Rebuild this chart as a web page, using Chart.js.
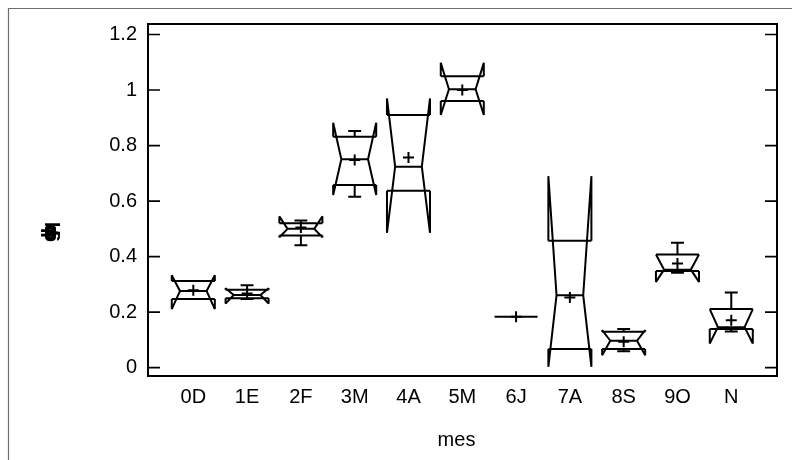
<!DOCTYPE html>
<html>
<head>
<meta charset="utf-8">
<script src="https://cdn.jsdelivr.net/npm/chart.js@4"></script>
<style>
  html,body{margin:0;padding:0;background:#fff;}
  #wrap{width:792px;height:460px;}
</style>
</head>
<body>
<div id="wrap"><canvas id="c" width="792" height="460"></canvas></div>
<script>
const categories = ['0D','1E','2F','3M','4A','5M','6J','7A','8S','9O','N'];
const whiskerHigh = [0.312,0.297,0.530,0.853,0.910,1.050,0.183,0.457,0.139,0.450,0.271];
const notchHigh   = [0.333,0.286,0.545,0.882,0.970,1.098,0.183,0.690,0.135,0.408,0.211];
const q3          = [0.312,0.281,0.520,0.832,0.910,1.050,0.183,0.457,0.129,0.408,0.211];
const median      = [0.276,0.262,0.500,0.751,0.724,1.003,0.183,0.261,0.097,0.353,0.146];
const q1          = [0.247,0.250,0.476,0.658,0.637,0.961,0.183,0.067,0.067,0.348,0.139];
const notchLow    = [0.211,0.231,0.470,0.622,0.486,0.910,0.183,0.003,0.045,0.309,0.087];
const whiskerLow  = [0.247,0.247,0.441,0.616,0.637,0.961,0.183,0.067,0.059,0.342,0.130];
const means       = [0.279,0.267,0.505,0.748,0.757,1.000,0.183,0.253,0.093,0.375,0.171];
const yTickValues = [0,0.2,0.4,0.6,0.8,1,1.2];
const yTickLabels = ['0','0.2','0.4','0.6','0.8','1','1.2'];
const xTitle = 'mes';

const FONT = 'Liberation Sans, Arial, sans-serif';
const BOX_HALF = 0.4, NOTCH_FRAC = 0.62, CAP_HALF = 0.12;

const boxPlugin = {
  id:'boxes',
  beforeDatasetsDraw(chart){
    const {ctx, scales:{x,y}} = chart;
    ctx.save();
    ctx.strokeStyle = '#000';
    ctx.lineWidth = 2;
    ctx.lineJoin = 'bevel';
    ctx.lineCap = 'butt';
    for(let i=0;i<categories.length;i++){
      const xl = x.getPixelForValue(i-BOX_HALF), xr = x.getPixelForValue(i+BOX_HALF);
      const il = x.getPixelForValue(i-BOX_HALF*NOTCH_FRAC), ir = x.getPixelForValue(i+BOX_HALF*NOTCH_FRAC);
      const cl = x.getPixelForValue(i-CAP_HALF), cr = x.getPixelForValue(i+CAP_HALF), xc = x.getPixelForValue(i);
      const yq3=y.getPixelForValue(q3[i]), yq1=y.getPixelForValue(q1[i]), ym=y.getPixelForValue(median[i]);
      const ynh=y.getPixelForValue(notchHigh[i]), ynl=y.getPixelForValue(notchLow[i]);
      const ywh=y.getPixelForValue(whiskerHigh[i]), ywl=y.getPixelForValue(whiskerLow[i]);
      ctx.beginPath();
      ctx.moveTo(xl,yq3); ctx.lineTo(xl,ynh); ctx.lineTo(il,ym); ctx.lineTo(xl,ynl); ctx.lineTo(xl,yq1);
      ctx.moveTo(xr,yq3); ctx.lineTo(xr,ynh); ctx.lineTo(ir,ym); ctx.lineTo(xr,ynl); ctx.lineTo(xr,yq1);
      ctx.moveTo(xl,yq3); ctx.lineTo(xr,yq3);
      ctx.moveTo(xl,yq1); ctx.lineTo(xr,yq1);
      ctx.moveTo(il,ym); ctx.lineTo(ir,ym);
      if(whiskerHigh[i]>q3[i]){ ctx.moveTo(xc,yq3); ctx.lineTo(xc,ywh); ctx.moveTo(cl,ywh); ctx.lineTo(cr,ywh); }
      if(whiskerLow[i]<q1[i]){ ctx.moveTo(xc,yq1); ctx.lineTo(xc,ywl); ctx.moveTo(cl,ywl); ctx.lineTo(cr,ywl); }
      ctx.stroke();
    }
    ctx.restore();
  },
  afterDraw(chart){
    const {ctx, chartArea:a, scales:{y}} = chart;
    ctx.save();
    ctx.strokeStyle = '#6e6e6e'; ctx.lineWidth = 1.2;
    ctx.beginPath(); ctx.moveTo(8.5,460); ctx.lineTo(8.5,8.5); ctx.lineTo(792,8.5); ctx.stroke();
    ctx.strokeStyle = '#000'; ctx.lineWidth = 2;
    ctx.strokeRect(a.left, a.top, a.right-a.left, a.bottom-a.top);
    ctx.lineWidth = 1.6;
    ctx.beginPath();
    yTickValues.forEach(v=>{
      const py = y.getPixelForValue(v);
      ctx.moveTo(a.left, py); ctx.lineTo(a.left+12, py);
      ctx.moveTo(a.right, py); ctx.lineTo(a.right-12, py);
    });
    ctx.stroke();
    ctx.fillStyle = '#000';
    ctx.font = '20px ' + FONT;
    ctx.textAlign = 'center'; ctx.textBaseline = 'middle';
    ctx.fillText(xTitle, (a.left+a.right)/2 - 6, 440);
    // y-axis title: illegible overlapping glyphs as in the reference
    ctx.save();
    ctx.translate(50, 232);
    ctx.rotate(-Math.PI/2);
    ctx.font = 'bold 20px ' + FONT;
    ['g','d','b','p','q'].forEach((ch,k)=>ctx.fillText(ch, (k-2)*2, 0));
    ctx.restore();
    ctx.restore();
  }
};

new Chart(document.getElementById('c'), {
  type:'scatter',
  data:{ datasets:[{
    data: means.map((m,i)=>({x:i,y:m})),
    pointStyle:'cross', radius:5.5, borderColor:'#000', backgroundColor:'#000', borderWidth:2
  }]},
  options:{
    responsive:false, animation:false, devicePixelRatio:1,
    layout:{padding:{left:0,right:15,top:24,bottom:0}},
    plugins:{legend:{display:false}, tooltip:{enabled:false}},
    elements:{point:{hoverRadius:5.5}},
    events:[],
    scales:{
      x:{
        type:'linear', min:-0.842, max:10.85,
        afterBuildTicks:s=>{ s.ticks = categories.map((c,i)=>({value:i})); },
        ticks:{ callback:(v)=>categories[v], font:{size:20,family:FONT}, color:'#000', padding:9, maxRotation:0, autoSkip:false },
        grid:{display:false, drawTicks:false}, border:{display:false},
        afterFit:s=>{ s.height = 84; }
      },
      y:{
        type:'linear', min:-0.03, max:1.238,
        afterBuildTicks:s=>{ s.ticks = yTickValues.map(v=>({value:v})); },
        ticks:{ callback:(v,i)=>yTickLabels[i], font:{size:20,family:FONT}, color:'#000', padding:11, autoSkip:false },
        grid:{display:false, drawTicks:false}, border:{display:false},
        afterFit:s=>{ s.width = 148; }
      }
    }
  },
  plugins:[boxPlugin]
});
</script>
</body>
</html>
